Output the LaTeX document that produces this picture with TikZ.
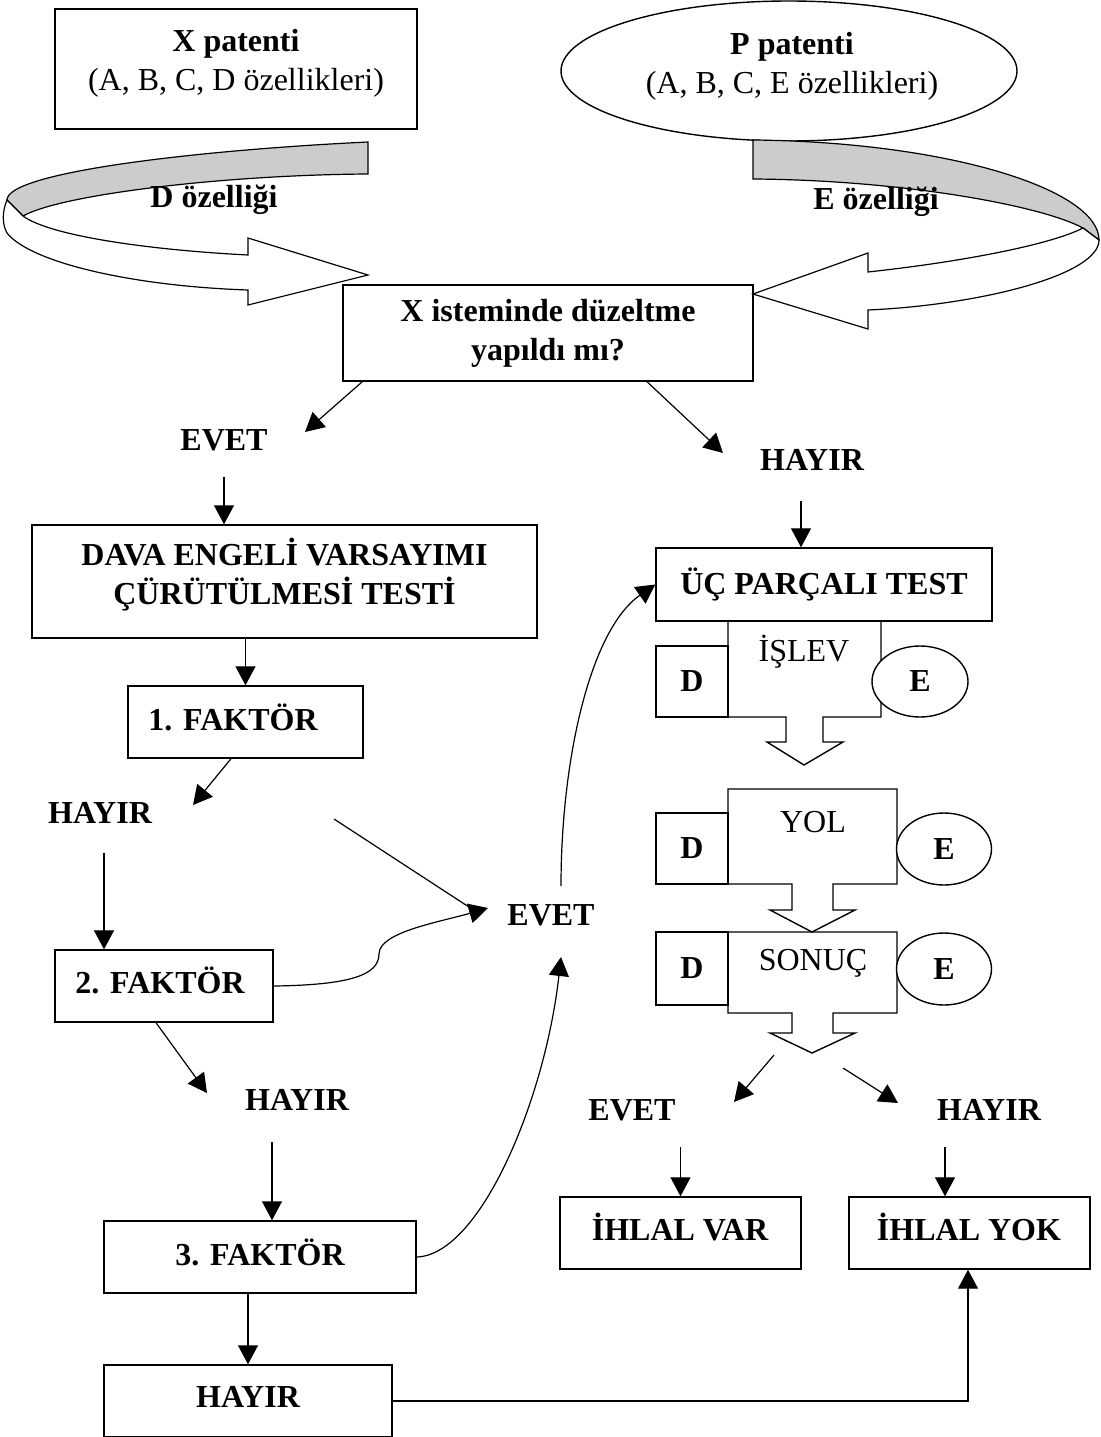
\documentclass[tikz,border=0pt]{standalone}
\usepackage{fontspec}
\setmainfont{Liberation Serif}
\usetikzlibrary{arrows.meta,shapes.geometric}
\newcommand\yazitipi{\fontsize{32}{39}\selectfont}
\tikzset{
	kutu/.style={draw,line width=1.4pt,inner sep=0pt},
	kalin/.style={font=\yazitipi\bfseries,align=center,inner sep=0pt},
	ince/.style={font=\yazitipi,align=center,inner sep=0pt},
	ok/.style={line width=1.2pt,-{Triangle[length=19pt,width=20pt]}},
	hat/.style={line width=1.2pt},
	serit/.style={draw,line width=1.2pt,line join=miter},
}
\begin{document}
\begin{tikzpicture}[x=1pt,y=-1pt]
	\useasboundingbox (0,0) rectangle (1100,1437);
	
	%PATENTS
	\node[kutu,minimum width=362pt,minimum height=120pt] (xpat) at (236,69) {};
	\node[ince] (xpatyazi) at (236,63) {\textbf{X patenti}\\(A, B, C, D özellikleri)};
	\node[kutu,ellipse,minimum width=456pt,minimum height=140pt] (ppat) at (789,71) {};
	\node[ince] (ppatyazi) at (792,66) {\textbf{P patenti}\\(A, B, C, E özellikleri)};
	
	%RIBBON ARROWS
	\draw[serit,fill=black!20] (368,142) .. controls (200,150) and (7,172) .. (7,200) -- (23,216)
		.. controls (60,195) and (220,175) .. (368,174) -- cycle;
	\draw[serit,fill=white] (7,200) .. controls (2,212) and (2,224) .. (7,233)
		.. controls (30,262) and (130,286) .. (248,290) -- (248,305) -- (368,275) -- (248,238) -- (248,255)
		.. controls (150,250) and (50,236) .. (23,216) -- cycle;
	%
	\draw[serit,fill=black!20] (753,140) .. controls (950,142) and (1099,190) .. (1099,240) -- (1083,228)
		.. controls (1040,205) and (900,180) .. (753,179) -- cycle;
	\draw[serit,fill=white] (1099,240) .. controls (1099,275) and (980,305) .. (868,310) -- (868,329) -- (753,294) -- (868,253) -- (868,272)
		.. controls (960,262) and (1050,245) .. (1083,228) -- cycle;
	\node[kalin] (dozel) at (214,200) {D özelliği};
	\node[kalin] (eozel) at (876,202) {E özelliği};
	
	%QUESTION
	\node[kutu,kalin,minimum width=410pt,minimum height=96pt] (soru) at (548,333) {X isteminde düzeltme\\yapıldı mı?};
	\node[kalin] (evetA) at (224,440) {EVET};
	\node[kalin] (hayirA) at (812,460) {HAYIR};
	
	%LEFT BRANCH
	\node[kutu,minimum width=505pt,minimum height=113pt] (dava) at (284.5,581.5) {};
	\node[kalin] (davayazi) at (284.5,575) {DAVA ENGELİ VARSAYIMI\\ÇÜRÜTÜLMESİ TESTİ};
	\node[kutu,minimum width=235pt,minimum height=72pt] (f1) at (245.5,722) {};
	\node[kalin] (f1yazi) at (233,717) {1. FAKTÖR};
	\node[kalin] (hayirB) at (100,813) {HAYIR};
	\node[kutu,minimum width=218pt,minimum height=72pt] (f2) at (164,986) {};
	\node[kalin] (f2yazi) at (160,980) {2. FAKTÖR};
	\node[kalin] (evetB) at (551,915) {EVET};
	\node[kalin] (hayirC) at (297,1100) {HAYIR};
	\node[kutu,minimum width=312pt,minimum height=72pt] (f3) at (260,1257) {};
	\node[kalin] (f3yazi) at (260,1252) {3. FAKTÖR};
	\node[kutu,minimum width=288pt,minimum height=72pt] (hayirD) at (248,1401) {};
	\node[kalin] (hayirDyazi) at (248,1397) {HAYIR};
	
	%THREE PART TEST
	\node[kutu,kalin,minimum width=336pt,minimum height=73pt] (ucp) at (824,584.5) {ÜÇ PARÇALI TEST};
	\draw[kutu] (728,621) -- (881,621) -- (881,717) -- (823,717) -- (823,742) -- (843,742) -- (804,765)
		-- (767,742) -- (786,742) -- (786,717) -- (728,717) -- cycle;
	\draw[kutu] (728,789) -- (897,789) -- (897,884) -- (833,884) -- (833,910) -- (855,910) -- (812,932)
		-- (770,910) -- (792,910) -- (792,884) -- (728,884) -- cycle;
	\draw[kutu] (728,932) -- (897,932) -- (897,1013) -- (833,1013) -- (833,1033) -- (855,1033) -- (812,1053)
		-- (770,1033) -- (792,1033) -- (792,1013) -- (728,1013) -- cycle;
	\coordinate (sonucuc) at (812,1053);
	\node[ince] (islev) at (804,652) {İŞLEV};
	\node[ince] (yol) at (813,822) {YOL};
	\node[ince] (sonuc) at (813,963) {SONUÇ};
	\node[kutu,kalin,minimum width=72pt,minimum height=71pt] (d1) at (692,681.5) {D};
	\node[kutu,kalin,minimum width=72pt,minimum height=71pt] (d2) at (692,848.5) {D};
	\node[kutu,kalin,minimum width=72pt,minimum height=73pt] (d3) at (692,968.5) {D};
	\node[kutu,kalin,ellipse,fill=white,minimum width=96pt,minimum height=71pt] (e1) at (920,681.5) {E};
	\node[kutu,kalin,ellipse,fill=white,minimum width=95pt,minimum height=72pt] (e2) at (944,849) {E};
	\node[kutu,kalin,ellipse,fill=white,minimum width=95pt,minimum height=72pt] (e3) at (944,969) {E};
	\node[kalin] (evetC) at (632,1110) {EVET};
	\node[kalin] (hayirE) at (989,1110) {HAYIR};
	\node[kutu,minimum width=241pt,minimum height=72pt] (ivar) at (680.5,1233) {};
	\node[kalin] (ivaryazi) at (680,1227) {İHLAL VAR};
	\node[kutu,minimum width=241pt,minimum height=72pt] (iyok) at (969.5,1233) {};
	\node[kalin] (iyokyazi) at (969,1227) {İHLAL YOK};
	
	%CONNECTORS
	\draw[ok] ([xshift=20pt]soru.south west) -- ([xshift=81pt,yshift=8pt]evetA.center);
	\draw[ok] ([xshift=99pt]soru.south) -- ([xshift=-89pt,yshift=7pt]hayirA.center);
	\draw[ok] ([yshift=-37pt]evetA.center) -- (evetA.center |- dava.north);
	\draw[ok] (f1.north |- dava.south) -- (f1.north);
	\draw[ok] ([xshift=-14.5pt]f1.south) -- ([xshift=93pt,yshift=8pt]hayirB.center);
	\draw[ok] ([xshift=4pt,yshift=-40pt]hayirB.center) -- ([xshift=-60pt]f2.north);
	\draw[hat] ([xshift=234pt,yshift=-6pt]hayirB.center) -- ([xshift=-79pt,yshift=6pt]evetB.center);
	\coordinate (kivrim) at (379,954);
	\draw[ok] (f2.east) .. controls (350,985) and (379,975) .. (kivrim)
		.. controls (379,932) and (440,922) .. ([xshift=-63pt,yshift=7pt]evetB.center);
	\draw[ok] ([xshift=-8pt]f2.south) -- ([xshift=-90pt,yshift=7pt]hayirC.center);
	\draw[ok] ([xshift=-25pt,yshift=-42pt]hayirC.center) -- ([xshift=12pt]f3.north);
	\draw[ok] (f3.east) .. controls (480,1255) and (545,1100) .. ([xshift=10pt,yshift=-42pt]evetB.center);
	\draw[ok] ([xshift=10pt,yshift=29pt]evetB.center) .. controls (561,760) and (590,630) .. (ucp.west);
	\draw[ok] ([xshift=-11pt,yshift=-41pt]hayirA.center) -- ([xshift=-23pt]ucp.north);
	\draw[ok] ([xshift=-38pt,yshift=-2pt]sonucuc) -- ([xshift=102pt,yshift=8pt]evetC.center);
	\draw[ok] ([xshift=31pt,yshift=-15pt]sonucuc) -- ([xshift=-91pt,yshift=7pt]hayirE.center);
	\draw[ok] ([yshift=49pt]ivar.north) -- (ivar.north);
	\draw[ok] ([xshift=-24.5pt,yshift=49pt]iyok.north) -- ([xshift=-24.5pt]iyok.north);
	\draw[ok] ([xshift=-12pt]f3.south) -- (hayirD.north);
	\draw[ok] (hayirD.east) -| ([xshift=-1.5pt]iyok.south);
\end{tikzpicture}
\end{document}
